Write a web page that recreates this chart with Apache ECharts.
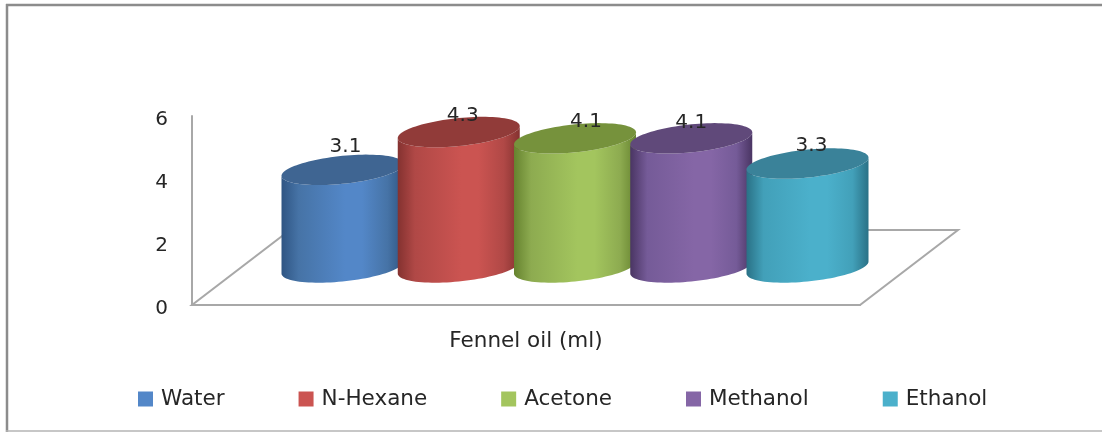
<!DOCTYPE html>
<html>
<head>
<meta charset="utf-8">
<style>html,body{margin:0;padding:0;background:#fff}#c{width:1102px;height:432px}</style>
<script src="https://cdn.jsdelivr.net/npm/echarts@6/dist/echarts.min.js"></script>
</head>
<body>
<div id="c"></div>
<script>
// Fennel oil yield by extraction solvent
const categories = ['Fennel oil (ml)'];
const water = [3.1];
const nHexane = [4.3];
const acetone = [4.1];
const methanol = [4.1];
const ethanol = [3.3];
const yTicks = { min: 0, max: 6, interval: 2 };

const FONT = '"DejaVu Sans", sans-serif';
const TEXT = '#262626';
const AXIS = '#a8a8a8';

// Oblique floor: how far the back edge sits from the front edge, in pixels
const DEPTH_X = 98, DEPTH_Y = 75;
// Cylinder layout as fractions of the band width
const STEP = 116.25 / 668, RADIUS = 61 / 668;
// Tilted ellipse used for cylinder caps
const TILT = 6, MINOR = 14;

const solvents = [
  { name: 'Water',    values: water,    color: '#5387c8', edge: '#2f5583', rim: '#4673a6', cap: '#3f6592', nudge: [3, -23] },
  { name: 'N-Hexane', values: nHexane,  color: '#cb5451', edge: '#843230', rim: '#b04846', cap: '#913b39', nudge: [4, -16] },
  { name: 'Acetone',  values: acetone,  color: '#a3c55e', edge: '#66832f', rim: '#8dab50', cap: '#76923c', nudge: [11, -17] },
  { name: 'Methanol', values: methanol, color: '#8566a6', edge: '#4a3563', rim: '#755b98', cap: '#60497a', nudge: [0, -16] },
  { name: 'Ethanol',  values: ethanol,  color: '#4bb0cb', edge: '#2a7186', rim: '#42a0b9', cap: '#3a8299', nudge: [4, -18] }
];

function capPoint(cx, cy, a, t) {
  const c = Math.cos(t), s = Math.sin(t);
  return [cx + a * c, cy - TILT * c + MINOR * s];
}

function arc(cx, cy, a, from, to, n) {
  const pts = [];
  for (let i = 0; i <= n; i++) pts.push(capPoint(cx, cy, a, from + (to - from) * i / n));
  return pts;
}

function cylinderRenderer(solvent, index) {
  return function (params, api) {
    const band = api.size([1, 0])[0];
    const base = api.coord([api.value(0), 0]);
    const top = api.coord([api.value(0), api.value(1)]);
    const a = band * RADIUS;
    const cx = base[0] + DEPTH_X / 2 + (index - 2) * band * STEP;
    const y0 = base[1] - DEPTH_Y / 2;
    const y1 = top[1] - DEPTH_Y / 2;
    const body = arc(cx, y0, a, Math.PI, 0, 48).concat(arc(cx, y1, a, 0, Math.PI, 48));
    const side = {
      type: 'linear', x: 0, y: 0, x2: 1, y2: 0,
      colorStops: [
        { offset: 0, color: solvent.edge },
        { offset: 0.14, color: solvent.rim },
        { offset: 0.52, color: solvent.color },
        { offset: 0.66, color: solvent.color },
        { offset: 0.87, color: solvent.rim },
        { offset: 1, color: solvent.edge }
      ]
    };
    return {
      type: 'group',
      children: [
        { type: 'polygon', shape: { points: body }, style: { fill: side } },
        { type: 'polygon', shape: { points: arc(cx, y1, a, 0, Math.PI * 2, 96) }, style: { fill: solvent.cap } },
        {
          type: 'text',
          style: {
            text: api.value(1).toFixed(1),
            x: cx + solvent.nudge[0], y: y1 + solvent.nudge[1],
            align: 'center', verticalAlign: 'middle',
            font: '20px ' + FONT, fill: TEXT
          }
        }
      ]
    };
  };
}

function floorRenderer(params, api) {
  const size = api.size([1, 0])[0];
  const origin = api.coord([0, 0]);
  const x0 = origin[0] - size / 2, x1 = origin[0] + size / 2, y = origin[1];
  return {
    type: 'polygon',
    shape: { points: [[x0, y], [x1, y], [x1 + DEPTH_X, y - DEPTH_Y], [x0 + DEPTH_X, y - DEPTH_Y]] },
    style: { fill: 'none', stroke: AXIS, lineWidth: 2 },
    silent: true
  };
}

const series = [{
  type: 'custom', name: 'floor', data: [[0, 0]], renderItem: floorRenderer, silent: true, z: 1,
  encode: { x: 0, y: 1 }
}].concat(solvents.map((s, i) => ({
  type: 'custom',
  name: s.name,
  z: 2 + i,
  data: s.values.map((v, j) => [j, v]),
  encode: { x: 0, y: 1 },
  itemStyle: { color: s.color },
  renderItem: cylinderRenderer(s, i)
})));

const chart = echarts.init(document.getElementById('c'), null, { renderer: 'canvas' });
chart.setOption({
  animation: false,
  backgroundColor: '#ffffff',
  grid: { left: 192, top: 116, width: 668, height: 189, containLabel: false },
  xAxis: {
    type: 'category',
    data: categories,
    axisTick: { show: false },
    axisLine: { show: true, lineStyle: { color: AXIS, width: 2 } },
    axisLabel: { margin: 25, color: TEXT, fontFamily: FONT, fontSize: 21.5 }
  },
  yAxis: {
    type: 'value',
    min: yTicks.min, max: yTicks.max, interval: yTicks.interval,
    splitLine: { show: false },
    axisTick: { show: false },
    axisLine: { show: true, lineStyle: { color: AXIS, width: 2 } },
    axisLabel: {
      margin: 24,
      formatter: '{t|{value}}',
      rich: { t: { color: TEXT, fontFamily: FONT, fontSize: 20, padding: [8, 0, 0, 0] } }
    }
  },
  legend: {
    data: solvents.map(s => s.name),
    left: 133, top: 383,
    icon: 'rect',
    itemWidth: 15, itemHeight: 15, itemGap: 74,
    textStyle: { color: TEXT, fontFamily: FONT, fontSize: 21.5, padding: [0, 0, 0, 3] }
  },
  graphic: [
    { type: 'line', shape: { x1: 6, y1: 5, x2: 1102, y2: 5 }, style: { stroke: '#8c8c8c', lineWidth: 2.5 } },
    { type: 'line', shape: { x1: 7, y1: 4, x2: 7, y2: 432 }, style: { stroke: '#8c8c8c', lineWidth: 2.5 } },
    { type: 'line', shape: { x1: 6, y1: 431, x2: 1102, y2: 431 }, style: { stroke: '#b4b4b4', lineWidth: 1.5 } }
  ],
  series: series
});
</script>
</body>
</html>
